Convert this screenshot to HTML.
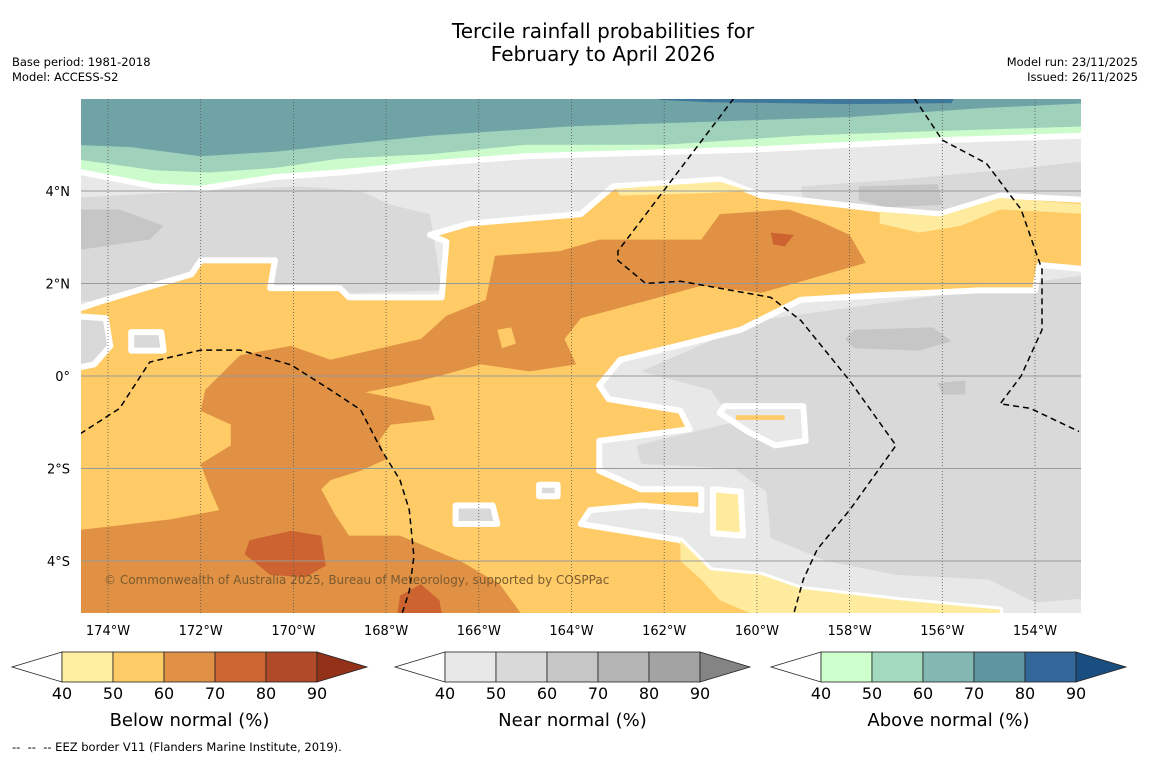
<!DOCTYPE html>
<html><head><meta charset="utf-8">
<style>
body{margin:0;background:#fff;width:1150px;height:758px;overflow:hidden;font-family:"DejaVu Sans","Liberation Sans",sans-serif;}
svg text{font-family:"DejaVu Sans","Liberation Sans",sans-serif;}
</style></head>
<body>
<svg id="chart" width="1150" height="758" viewBox="0 0 1150 758" xmlns="http://www.w3.org/2000/svg">
<text x="603" y="38" text-anchor="middle" font-size="20" fill="#000">Tercile rainfall probabilities for</text>
<text x="603" y="61" text-anchor="middle" font-size="20" fill="#000">February to April 2026</text>
<text x="12" y="66" font-size="11.5">Base period: 1981-2018</text>
<text x="12" y="81" font-size="11.5">Model: ACCESS-S2</text>
<text x="1138" y="66" font-size="11.5" text-anchor="end">Model run: 23/11/2025</text>
<text x="1138" y="81" font-size="11.5" text-anchor="end">Issued: 26/11/2025</text>
<defs><clipPath id="mapclip"><rect x="81" y="99" width="1000" height="514"/></clipPath></defs>
<g id="map" clip-path="url(#mapclip)"></g>
<g id="axes"></g>
<g id="legends"></g>
<text x="12" y="751" font-size="11.5" style="white-space:pre">--  --  -- EEZ border V11 (Flanders Marine Institute, 2019).</text>
</svg>
<script>
// Axis tick data
const lonTicks = [-174,-172,-170,-168,-166,-164,-162,-160,-158,-156,-154];
const latTicks = [4,2,0,-2,-4];
// Colorbar data
const cbLevels = [40,50,60,70,80,90];
const belowColors = ["#ffeda0","#fecc66","#e09145","#cc6632","#b04a28"];
const belowExt = "#933219";
const nearColors = ["#e8e8e8","#d9d9d9","#c6c6c6","#b4b4b4","#a3a3a3"];
const nearExt = "#848484";
const aboveColors = ["#ccffcc","#a3d9bf","#82b7b2","#5e95a0","#336699"];
const aboveExt = "#1a4d80";
const cbTitles = ["Below normal (%)","Near normal (%)","Above normal (%)"];
// Contour regions (lon, lat)
const tealBand = [[-174.8,6.3],[-152.8,6.3],[-152.8,5.9],[-155,5.8],[-158,5.6],[-161,5.5],[-164,5.4],[-167,5.2],[-169,5.0],[-170.4,4.85],[-172,4.75],[-173.5,4.95],[-174.8,5.0]];
const greenBand = [[-174.8,6.3],[-152.8,6.3],[-152.8,5.4],[-156,5.3],[-159,5.2],[-162,5.0],[-165,5.0],[-167,4.8],[-169,4.7],[-170.4,4.5],[-171.8,4.4],[-173,4.45],[-174.8,4.7]];
const lightGreenBand = [[-174.8,6.3],[-152.8,6.3],[-152.8,5.2],[-156,5.1],[-160,4.9],[-165,4.75],[-167,4.6],[-169,4.4],[-170.4,4.3],[-172,4.05],[-173,4.1],[-174.8,4.45]];
const blueTop = [[-162.1,6.3],[-155.6,6.3],[-155.8,5.9],[-158,5.88],[-161,5.92],[-162.1,5.97]];
const grayTopLeft = [[-174.8,3.85],[-172,4.0],[-169.85,4.1],[-168.55,4.0],[-167.9,3.7],[-167.05,3.5],[-166.8,1.85],[-174.8,1.6]];
const darkTopLeft = [[-174.8,3.6],[-173.75,3.6],[-172.8,3.25],[-173.1,2.95],[-174.8,2.7]];
const grayTopRight = [[-159.05,4.1],[-156.9,4.25],[-154.75,4.45],[-152.8,4.65],[-152.8,3.7],[-156,3.4],[-159,3.7]];
const darkTopRight = [[-157.8,4.1],[-156.1,4.15],[-156,3.7],[-157.2,3.65],[-157.8,3.8]];
const grayRight = [[-160,1.2],[-152.8,2.2],[-152.8,-4.8],[-154,-4.9],[-155,-4.4],[-157,-4.3],[-158.5,-4.0],[-159.7,-3.5],[-159.8,-2.5],[-160.5,-2.0],[-162.5,-1.9],[-162.6,-1.5],[-160.5,-1.0],[-161,-0.3],[-162.5,0.1]];
const darkRight1 = [[-157.9,1.0],[-156.2,1.05],[-155.8,0.75],[-156.5,0.55],[-157.9,0.6],[-158.1,0.8]];
const darkRight2 = [[-156.1,-0.15],[-155.5,-0.1],[-155.5,-0.4],[-156.0,-0.4]];
const grayLeftEdge = [[-174.8,1.3],[-174.05,1.25],[-173.95,0.65],[-174.3,0.25],[-174.8,0.15]];
const below50 = [[-174.8,1.4],[-174.2,1.6],[-172.2,2.2],[-172,2.5],[-170.4,2.5],[-170.5,1.9],[-169,1.9],[-168.8,1.7],[-166.8,1.7],[-166.7,2.9],[-167.05,3.05],[-166.2,3.3],[-163.8,3.5],[-163.1,4.1],[-160.8,4.25],[-159.9,3.9],[-157.3,3.6],[-156.05,3.5],[-154.75,3.9],[-152.8,3.8],[-152.8,2.3],[-153.9,2.4],[-154,1.85],[-155.2,1.85],[-157.3,1.75],[-159.05,1.65],[-160.35,1.0],[-161.65,0.67],[-162.95,0.35],[-163.4,-0.2],[-163.2,-0.5],[-161.65,-0.75],[-161.45,-1.15],[-163.4,-1.4],[-163.4,-2.05],[-162.5,-2.45],[-161.2,-2.45],[-161.2,-2.9],[-162.5,-2.8],[-163.6,-2.9],[-163.8,-3.2],[-161.65,-3.55],[-161,-4.2],[-159.9,-4.3],[-159.05,-4.6],[-156.9,-4.85],[-154.75,-5.05],[-154.75,-5.4],[-174.8,-5.4]];
const below60 = [[-174.8,-3.35],[-172.65,-3.1],[-171.6,-2.9],[-171.8,-2.45],[-172,-1.9],[-171.35,-1.5],[-171.35,-1.05],[-172,-0.75],[-171.9,-0.3],[-171.15,0.45],[-170.05,0.65],[-169.2,0.35],[-168.35,0.55],[-167.25,0.8],[-166.7,1.3],[-165.85,1.65],[-165.65,2.6],[-164.25,2.7],[-163.4,2.95],[-161.2,2.95],[-160.8,3.5],[-159.3,3.6],[-158.65,3.35],[-158,3.05],[-157.65,2.45],[-158.85,2.1],[-159.9,1.8],[-161.2,1.95],[-162.3,1.65],[-163.8,1.25],[-164.15,0.8],[-163.9,0.25],[-164.9,0.1],[-165.95,0.25],[-166.85,0.0],[-167.7,-0.2],[-168.45,-0.35],[-167.05,-0.65],[-166.95,-0.95],[-167.9,-1.05],[-168.15,-1.4],[-168.0,-1.8],[-168.55,-2.05],[-169.2,-2.25],[-169.4,-2.45],[-169.1,-3.0],[-168.8,-3.45],[-167.7,-3.45],[-166.4,-4.0],[-165.55,-4.5],[-164.9,-5.4],[-174.8,-5.4]];
const below60hole = [[-165.6,1.0],[-165.3,1.05],[-165.2,0.7],[-165.5,0.6]];
const below70a = [[-170.95,-3.55],[-170.05,-3.35],[-169.4,-3.45],[-169.3,-4.1],[-169.75,-4.35],[-170.5,-4.3],[-171.05,-3.85]];
const below70b = [[-167.7,-4.75],[-167.25,-4.5],[-166.85,-4.85],[-166.75,-5.4],[-167.8,-5.4]];
const below70c = [[-159.7,3.1],[-159.2,3.05],[-159.4,2.8],[-159.65,2.85]];
const below40a = [[-157.35,3.55],[-156.05,3.45],[-154.75,3.85],[-152.8,3.7],[-152.8,3.5],[-154.75,3.6],[-155.6,3.25],[-156.5,3.1],[-157.35,3.3]];
const below40b = [[-163.05,4.05],[-160.8,4.2],[-160.15,4.0],[-161.2,3.95],[-162.95,3.9]];
const below40c = [[-161.65,-3.55],[-161,-4.2],[-159.9,-4.3],[-159.05,-4.6],[-156.9,-4.85],[-154.75,-5.05],[-154.75,-5.4],[-159.5,-5.4],[-160.8,-4.85],[-161.2,-4.4],[-161.65,-4.0]];
const islandGray = [[[-173.5,0.95],[-172.85,0.95],[-172.8,0.55],[-173.5,0.55]],[[-166.5,-2.8],[-165.7,-2.8],[-165.6,-3.2],[-166.5,-3.2]],[[-164.7,-2.35],[-164.3,-2.35],[-164.3,-2.6],[-164.7,-2.6]]];
const patchGrayLight = [[-160.7,-0.65],[-159.0,-0.65],[-158.95,-1.4],[-159.6,-1.5],[-160.2,-1.2],[-160.8,-0.8]];
const patchYellow = [[-160.95,-2.45],[-160.35,-2.5],[-160.3,-3.45],[-160.95,-3.4]];
const patchYellowLine = [[-160.45,-0.85],[-159.4,-0.85],[-159.4,-0.95],[-160.45,-0.95]];
const eez1 = [[-174.6,-1.25],[-173.75,-0.7],[-173.1,0.3],[-172,0.56],[-171.15,0.56],[-170.05,0.24],[-169.2,-0.3],[-168.55,-0.73],[-168.1,-1.6],[-167.7,-2.25],[-167.5,-2.9],[-167.4,-3.9],[-167.5,-4.65],[-167.65,-5.12]];
const eez2 = [[-160.5,6.0],[-163.0,2.7],[-163.0,2.5],[-162.4,2.0],[-161.65,2.05],[-159.7,1.7],[-159.05,1.2],[-158.0,-0.1],[-157.0,-1.5],[-158.0,-2.9],[-158.7,-3.75],[-159.0,-4.4],[-159.2,-5.12]];
const eez3 = [[-156.6,6.0],[-156.0,5.1],[-155.05,4.6],[-154.3,3.6],[-153.85,2.3],[-153.85,1.0],[-154.3,0.0],[-154.75,-0.6],[-154.1,-0.7],[-153.05,-1.2]];

const NS="http://www.w3.org/2000/svg";
const X = lon => 108 + (lon + 174) * 46.35;
const Y = lat => 376 - lat * 46.25;
const pts = arr => arr.map(p => X(p[0]).toFixed(1)+","+Y(p[1]).toFixed(1)).join(" ");
const map = document.getElementById('map');
function poly(parent, arr, fill, name, stroke, sw){
  const p=document.createElementNS(NS,'polygon');
  p.setAttribute('points',pts(arr));
  p.setAttribute('fill',fill);
  if(stroke){p.setAttribute('stroke',stroke);p.setAttribute('stroke-width',sw);p.setAttribute('stroke-linejoin','round');}
  
  
  parent.appendChild(p);return p;
}
const bg=document.createElementNS(NS,'rect');
bg.setAttribute('x',81);bg.setAttribute('y',99);bg.setAttribute('width',1000);bg.setAttribute('height',514);bg.setAttribute('fill','#e8e8e8');


map.appendChild(bg);
poly(map, grayTopLeft, '#d9d9d9', 'near-normal-50-nw');
poly(map, darkTopLeft, '#c6c6c6', 'near-normal-60-nw');
poly(map, grayTopRight, '#d9d9d9', 'near-normal-50-ne');
poly(map, darkTopRight, '#c6c6c6', 'near-normal-60-ne');
poly(map, grayRight, '#d9d9d9', 'near-normal-50-east');
poly(map, darkRight1, '#c6c6c6', 'near-normal-60-east');
poly(map, darkRight2, '#c6c6c6', 'near-normal-60-east-small');
poly(map, lightGreenBand, '#ccfccc', 'above-normal-40-band', '#ffffff', 6);
poly(map, greenBand, '#9fd1bb', 'above-normal-50-band');
poly(map, tealBand, '#6fa3a6', 'above-normal-60-band');
poly(map, blueTop, '#3f789a', 'above-normal-70-patch');
poly(map, below50, '#fecb66', 'below-normal-50-region', '#ffffff', 6);
poly(map, below40a, '#ffeb9e', 'below-normal-40-ne');
poly(map, below40b, '#ffeb9e', 'below-normal-40-north');
poly(map, below40c, '#ffeb9e', 'below-normal-40-south');
poly(map, below60, '#e09144', 'below-normal-60-region');
poly(map, below60hole, '#fecb66', 'below-normal-50-hole');
poly(map, below70a, '#cc6331', 'below-normal-70-sw');
poly(map, below70b, '#cc6331', 'below-normal-70-south');
poly(map, below70c, '#cc6331', 'below-normal-70-north');
poly(map, grayLeftEdge, '#d9d9d9', 'near-normal-west-edge', '#ffffff', 6);
islandGray.forEach((a,i)=>poly(map, a, '#d9d9d9', 'near-normal-islet-'+i, '#ffffff', 6));
poly(map, patchGrayLight, '#e8e8e8', 'near-normal-40-patch', '#ffffff', 6);
poly(map, patchYellowLine, '#fecb66', 'below-normal-50-sliver');
poly(map, patchYellow, '#ffeb9e', 'below-normal-40-patch', '#ffffff', 6);
// gridlines
lonTicks.forEach(l=>{
  const ln=document.createElementNS(NS,'line');
  ln.setAttribute('x1',X(l));ln.setAttribute('x2',X(l));ln.setAttribute('y1',99);ln.setAttribute('y2',613);
  ln.setAttribute('stroke','#555');ln.setAttribute('stroke-width',0.8);ln.setAttribute('stroke-dasharray','1,2');
  
  
  map.appendChild(ln);
});
latTicks.forEach(l=>{
  const ln=document.createElementNS(NS,'line');
  ln.setAttribute('x1',81);ln.setAttribute('x2',1081);ln.setAttribute('y1',Y(l));ln.setAttribute('y2',Y(l));
  ln.setAttribute('stroke','#999');ln.setAttribute('stroke-width',1);
  
  
  map.appendChild(ln);
});
[eez1,eez2,eez3].forEach((a,i)=>{
  const pl=document.createElementNS(NS,'polyline');
  pl.setAttribute('points',pts(a));pl.setAttribute('fill','none');pl.setAttribute('stroke','#000');
  pl.setAttribute('stroke-width',1.5);pl.setAttribute('stroke-dasharray','6,4');
  
  
  map.appendChild(pl);
});
const cr=document.createElementNS(NS,'text');
cr.setAttribute('x',104);cr.setAttribute('y',584);cr.setAttribute('font-size',12);cr.setAttribute('fill','#7a5a30');
cr.textContent='© Commonwealth of Australia 2025, Bureau of Meteorology, supported by COSPPac';


map.appendChild(cr);
// axis labels
const axes=document.getElementById('axes');
lonTicks.forEach(l=>{
  const t=document.createElementNS(NS,'text');
  t.setAttribute('x',X(l));t.setAttribute('y',635);t.setAttribute('text-anchor','middle');t.setAttribute('font-size',13);
  t.textContent=Math.abs(l)+'°W';
  
  
  axes.appendChild(t);
});
latTicks.forEach(l=>{
  const t=document.createElementNS(NS,'text');
  t.setAttribute('x',70);t.setAttribute('y',Y(l)+5);t.setAttribute('text-anchor','end');t.setAttribute('font-size',13);
  t.textContent= l===0 ? '0°' : Math.abs(l)+'°'+(l>0?'N':'S');
  
  
  axes.appendChild(t);
});
// colorbars
const legends=document.getElementById('legends');
const cbStarts=[62,445,821];
const sets=[[belowColors,belowExt],[nearColors,nearExt],[aboveColors,aboveExt]];
const cw=51, y0=652, y1=682;
sets.forEach((s,k)=>{
  const x0=cbStarts[k];
  const g=document.createElementNS(NS,'g');
  
  
  legends.appendChild(g);
  const lt=document.createElementNS(NS,'polygon');
  lt.setAttribute('points',`${x0-50},${(y0+y1)/2} ${x0},${y0} ${x0},${y1}`);
  lt.setAttribute('fill','#fff');lt.setAttribute('stroke','#222');lt.setAttribute('stroke-width',0.8);
  
  
  g.appendChild(lt);
  s[0].forEach((c,i)=>{
    const r=document.createElementNS(NS,'rect');
    r.setAttribute('x',x0+i*cw);r.setAttribute('y',y0);r.setAttribute('width',cw);r.setAttribute('height',y1-y0);
    r.setAttribute('fill',c);r.setAttribute('stroke','#222');r.setAttribute('stroke-width',0.8);
    
    
    g.appendChild(r);
  });
  const xe=x0+5*cw;
  const rt=document.createElementNS(NS,'polygon');
  rt.setAttribute('points',`${xe},${y0} ${xe+50},${(y0+y1)/2} ${xe},${y1}`);
  rt.setAttribute('fill',s[1]);rt.setAttribute('stroke','#222');rt.setAttribute('stroke-width',0.8);
  
  
  g.appendChild(rt);
  cbLevels.forEach((v,i)=>{
    const t=document.createElementNS(NS,'text');
    t.setAttribute('x',x0+i*cw);t.setAttribute('y',699);t.setAttribute('text-anchor','middle');t.setAttribute('font-size',16);
    t.textContent=v;
    
    
    g.appendChild(t);
  });
  const tt=document.createElementNS(NS,'text');
  tt.setAttribute('x',x0+2.5*cw);tt.setAttribute('y',726);tt.setAttribute('text-anchor','middle');tt.setAttribute('font-size',18);
  tt.textContent=cbTitles[k];
  
  
  g.appendChild(tt);
});
</script>
</body></html>
